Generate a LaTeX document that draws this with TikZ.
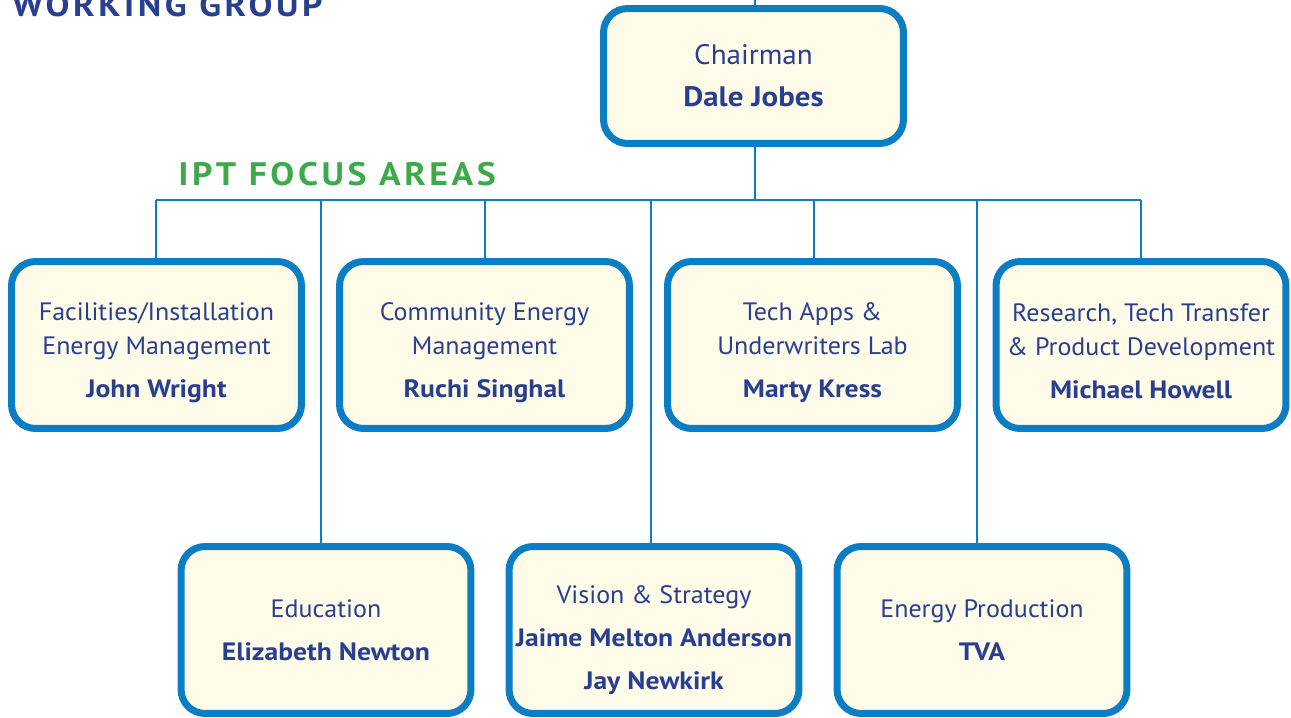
\documentclass[tikz,border=0pt]{standalone}
\usepackage{fontspec}
\setmainfont{PT Sans}[UprightFeatures={FakeStretch=1.035}, BoldFeatures={FakeStretch=1.10}]
\definecolor{boxblue}{RGB}{11,125,194}
\definecolor{boxfill}{RGB}{254,251,233}
\definecolor{navy}{RGB}{40,63,143}
\definecolor{ptgreen}{RGB}{61,170,73}
\newcommand\padtop[1]{\rule{0pt}{#1}}
\begin{document}
\begin{tikzpicture}[x=0.02cm, y=-0.02cm]

\tikzstyle{box}=[rectangle, draw=boxblue, fill=boxfill, line width=0.14cm, rounded corners=0.48cm, minimum width=5.8cm, minimum height=3.34cm, align=center, text=navy, font=\fontsize{14.3}{19.4}\selectfont]
\tikzstyle{chair}=[box, minimum width=6cm, minimum height=2.7cm, font=\fontsize{16}{20}\selectfont]
\tikzstyle{line}=[draw=boxblue, line width=0.045cm]
\tikzstyle{heading}=[anchor=base west, inner sep=0pt, font=\fontsize{18.5}{20}\selectfont\bfseries\addfontfeature{LetterSpace=11}]

\useasboundingbox (0,0) rectangle (1291,717);
\clip (0,0) rectangle (1291,717);

\node (WG) [heading, text=navy] at (12,16) {WORKING GROUP};
\node (IPT) [heading, text=ptgreen] at (178,185) {IPT FOCUS AREAS};

\node (A) [chair] at (753.5,76) {Chairman\\[4pt]\textbf{Dale Jobes}};

\node (B) [box] at (156.5,345) {\padtop{18.5pt}Facilities/Installation\\Energy Management\\[5pt]\textbf{John Wright}};
\node (C) [box] at (484.5,345) {\padtop{18.5pt}Community Energy\\Management\\[5pt]\textbf{Ruchi Singhal}};
\node (D) [box] at (812.5,345) {\padtop{18.5pt}Tech Apps \&\\Underwriters Lab\\[5pt]\textbf{Marty Kress}};
\node (E) [box] at (1141,345) {\padtop{17pt}Research, Tech Transfer\\\& Product Development\\[5pt]\textbf{Michael Howell}};

\node (F) [box] at (326,630) {Education\\[5pt]\textbf{Elizabeth Newton}};
\node (G) [box] at (654,630) {\padtop{22pt}Vision \& Strategy\\[5pt]\textbf{Jaime Melton Anderson}\\[5pt]\textbf{Jay Newkirk}};
\node (H) [box] at (982,630) {Energy Production\\[5pt]\textbf{TVA}};

\coordinate (top) at (755,-10);
\coordinate (bus) at (755,200);
\coordinate (b1) at (156,200);
\coordinate (b2) at (321,200);
\coordinate (b3) at (485,200);
\coordinate (b4) at (651,200);
\coordinate (b5) at (814,200);
\coordinate (b6) at (977,200);
\coordinate (b7) at (1141,200);

% connectors
\draw [line] (top) -- (top |- A.north);
\draw [line] (bus |- A.south) -- (bus);
\draw [line] (b1) -- (b7);
\draw [line] (b1) -- (b1 |- B.north);
\draw [line] (b3) -- (b3 |- C.north);
\draw [line] (b5) -- (b5 |- D.north);
\draw [line] (b7) -- (b7 |- E.north);
\draw [line] (b2) -- (b2 |- F.north);
\draw [line] (b4) -- (b4 |- G.north);
\draw [line] (b6) -- (b6 |- H.north);

\end{tikzpicture}
\end{document}
